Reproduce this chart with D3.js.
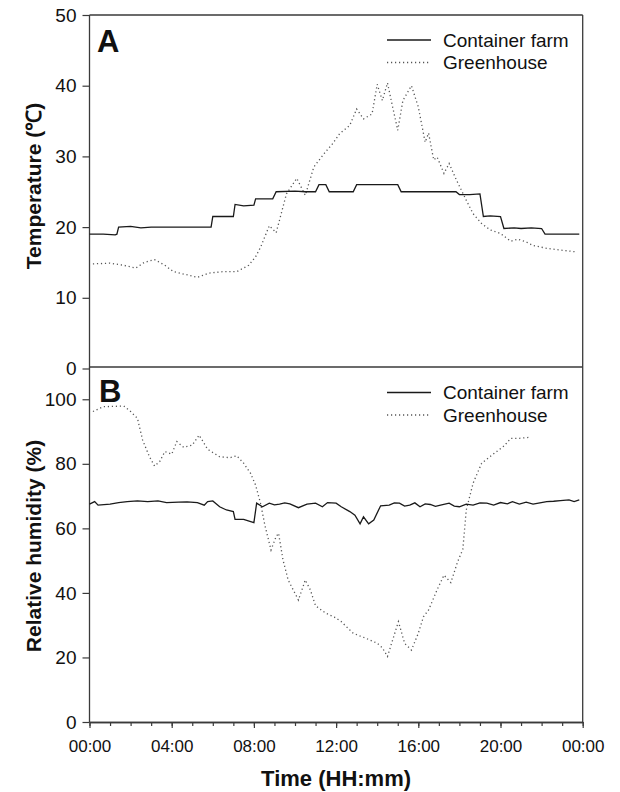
<!DOCTYPE html>
<html>
<head>
<meta charset="utf-8">
<script src="https://cdn.jsdelivr.net/npm/d3@7"></script>
<style>
  body { margin: 0; background: #fff; }
  svg text { font-family: "Liberation Sans", Arial, sans-serif; fill: #111; }
</style>
</head>
<body>
<div id="root"></div>
<script>
// temperature, container farm (solid)
var tempContainerTime = ["00:00","00:40","01:15","01:20","01:25","02:00","02:30","03:00","04:00","05:00","05:55","06:00","06:30","07:00","07:05","07:30","08:00","08:05","08:30","08:55","09:05","10:00","10:30","11:00","11:10","11:30","11:40","12:50","13:00","15:00","15:10","16:00","17:00","17:50","18:00","18:30","19:00","19:10","19:30","20:00","20:10","20:40","21:00","21:30","22:00","22:10","23:00","23:50"];
var tempContainer = [19.0,19.0,18.9,19.0,20.0,20.1,19.9,20.0,20.0,20.0,20.0,21.5,21.5,21.5,23.2,23.0,23.1,24.0,24.0,24.0,25.0,25.1,25.0,25.0,26.0,26.0,25.0,25.0,26.0,26.0,25.0,25.0,25.0,25.0,24.6,24.6,24.7,21.5,21.6,21.5,19.8,19.9,19.8,19.9,19.8,19.0,19.0,19.0];

// temperature, greenhouse (dotted)
var tempGreenTime = ["00:10","01:00","01:40","02:15","02:40","03:10","03:40","04:05","04:40","05:15","05:50","06:30","07:10","07:45","08:05","08:20","08:45","09:05","09:35","10:05","10:30","10:55","11:25","11:50","12:10","12:40","13:00","13:20","13:45","14:00","14:15","14:30","14:45","15:00","15:15","15:40","16:00","16:20","16:30","16:45","16:55","17:15","17:30","17:50","18:00","18:20","18:40","19:05","19:30","20:00","20:30","20:50","21:15","21:35","22:15","23:05","23:40"];
var tempGreen = [14.8,14.9,14.6,14.2,15.0,15.4,14.6,13.7,13.3,12.9,13.5,13.7,13.7,14.6,15.8,17.2,20.2,19.2,24.7,26.9,24.5,28.5,30.4,31.8,33.2,34.4,36.7,35.3,36.0,40.2,37.9,40.4,37.0,33.7,37.9,40.0,37.0,32.0,33.3,29.5,29.9,27.6,29.0,26.8,25.8,23.8,21.9,20.5,19.6,19.1,18.0,18.3,17.9,17.4,17.0,16.7,16.5];

// relative humidity, container farm (solid)
var rhContainerTime = ["00:00","00:15","00:25","01:00","01:25","01:50","02:20","02:50","03:20","03:45","04:20","04:45","05:15","05:35","05:45","06:00","06:20","06:40","07:00","07:05","07:30","08:00","08:08","08:25","08:45","09:00","09:15","09:30","09:45","10:10","10:35","11:00","11:20","11:35","12:00","12:15","12:40","12:55","13:10","13:20","13:35","13:50","14:10","14:35","14:50","15:05","15:20","15:35","15:50","16:05","16:20","16:35","16:50","17:05","17:30","17:45","18:00","18:20","18:40","19:00","19:20","19:40","20:00","20:20","20:35","20:55","21:15","21:35","21:55","22:15","22:35","22:55","23:20","23:35","23:50"];
var rhContainer = [67.5,68.3,67.2,67.5,68.0,68.3,68.5,68.3,68.5,68.0,68.1,68.2,68.0,67.2,68.3,68.5,66.7,65.7,65.2,62.8,62.8,61.8,67.8,66.7,67.8,67.3,67.5,67.9,67.6,66.4,67.5,67.8,66.7,68.0,67.8,66.7,65.2,64.1,61.4,63.6,61.4,62.6,67.0,67.2,67.9,67.8,66.9,67.2,67.9,66.7,67.6,67.4,66.8,67.2,67.8,66.9,66.7,67.5,67.2,67.9,67.8,67.2,68.0,67.6,68.3,67.5,68.1,67.5,67.9,68.3,68.4,68.6,68.8,68.3,68.8];

// relative humidity, greenhouse (dotted)
var rhGreenTime = ["00:10","00:40","01:40","02:00","02:20","02:35","02:55","03:10","03:25","03:40","04:00","04:15","04:35","05:00","05:20","05:45","06:20","06:50","07:10","07:30","07:50","08:05","08:20","08:32","08:50","09:05","09:12","09:25","09:40","10:10","10:30","10:45","11:00","11:30","11:55","12:15","12:50","13:30","14:00","14:15","14:30","14:45","15:02","15:20","15:40","16:00","16:15","16:30","16:55","17:15","17:35","17:55","18:10","18:20","18:40","19:05","19:35","20:10","20:30","20:55","21:25"];
var rhGreen = [96.2,97.7,97.9,96.2,94.1,87.4,82.2,79.3,80.7,83.8,83.0,86.9,85.1,85.8,88.9,84.5,82.2,81.9,82.5,80.2,77.1,73.4,67.5,61.0,53.3,57.5,58.5,50.2,44.0,37.8,44.0,40.9,36.0,33.7,32.5,31.1,27.5,25.8,24.4,23.0,20.3,25.4,31.1,24.4,22.3,27.5,32.6,34.7,41.0,45.5,43.2,49.7,53.5,65.7,74.0,80.2,82.7,85.5,87.9,87.9,88.2];

var tempTicks = [0, 10, 20, 30, 40, 50];
var rhTicks = [0, 20, 40, 60, 80, 100];
var seriesNames = ["Container farm", "Greenhouse"];

var w = 620, h = 792;
var left = 89.5, right = 582.7;
var topA = 15, botA = 367.5, topB = 367, botB = 722;

function hrs(s) {
  var p = s.split(":");
  return +p[0] + (+p[1]) / 60;
}
function zip(t, v) {
  return t.map(function(d, i) { return [hrs(d), v[i]]; });
}

var svg = d3.select("#root").append("svg").attr("width", w).attr("height", h);
svg.append("rect").attr("width", w).attr("height", h).attr("fill", "white");

var x = d3.scaleLinear().domain([0, 24]).range([left, right]);
var yA = d3.scaleLinear().domain([0, 50]).range([botA + 1, topA]);
var yB = d3.scaleLinear().domain([0, 110]).range([botB, topB]);

var axisColor = "#3a3a3a";

// frame lines
svg.append("line").attr("x1", left).attr("x2", right).attr("y1", topA).attr("y2", topA)
  .attr("stroke", axisColor).attr("stroke-width", 1.3);
svg.append("line").attr("x1", left).attr("x2", right).attr("y1", topB).attr("y2", topB)
  .attr("stroke", axisColor).attr("stroke-width", 1.3);
svg.append("line").attr("x1", right).attr("x2", right).attr("y1", topA).attr("y2", botB)
  .attr("stroke", axisColor).attr("stroke-width", 1.3);

// y axes
function styleAxis(g, size) {
  g.select(".domain").attr("stroke", axisColor).attr("stroke-width", 1.3);
  g.selectAll(".tick line").attr("stroke", axisColor).attr("stroke-width", 1.2);
  g.selectAll(".tick text").style("font-size", size + "px").attr("fill", "#111");
}
var gA = svg.append("g").attr("transform", "translate(" + left + ",0)")
  .call(d3.axisLeft(yA).tickValues(tempTicks).tickSize(7).tickPadding(6).tickSizeOuter(0));
styleAxis(gA, 19);
var gB = svg.append("g").attr("transform", "translate(" + left + ",0)")
  .call(d3.axisLeft(yB).tickValues(rhTicks).tickSize(7).tickPadding(6).tickSizeOuter(0));
styleAxis(gB, 19);
gB.select(".domain").attr("d", "M0," + topB + "V" + botB);
gA.select(".domain").attr("d", "M0," + topA + "V" + botA);

// x axis: hourly minor ticks, labels every 4 hours
var fmt = function(d) { return d3.format("02")(d % 24) + ":00"; };
var gMinor = svg.append("g").attr("transform", "translate(0," + botB + ")")
  .call(d3.axisBottom(x).tickValues(d3.range(0, 25, 1)).tickSize(4).tickFormat("").tickSizeOuter(0));
styleAxis(gMinor, 17);
var gX = svg.append("g").attr("transform", "translate(0," + botB + ")")
  .call(d3.axisBottom(x).tickValues(d3.range(0, 25, 4)).tickSize(6).tickPadding(12).tickFormat(fmt).tickSizeOuter(0));
styleAxis(gX, 17);

// lines
function drawLine(data, yScale, dotted) {
  var line = d3.line().x(function(d) { return x(d[0]); }).y(function(d) { return yScale(d[1]); });
  var p = svg.append("path").datum(data).attr("d", line).attr("fill", "none");
  if (dotted) {
    p.attr("stroke", "#555").attr("stroke-width", 1.3).attr("stroke-dasharray", "1.2,2.8");
  } else {
    p.attr("stroke", "#1a1a1a").attr("stroke-width", 1.3);
  }
}
drawLine(zip(tempGreenTime, tempGreen), yA, true);
drawLine(zip(tempContainerTime, tempContainer), yA, false);
drawLine(zip(rhGreenTime, rhGreen), yB, true);
drawLine(zip(rhContainerTime, rhContainer), yB, false);

// legends
function legend(y0) {
  seriesNames.forEach(function(name, i) {
    var yy = y0 + i * 22.5;
    var l = svg.append("line").attr("x1", 387).attr("x2", 431).attr("y1", yy).attr("y2", yy).attr("fill", "none");
    if (i == 1) l.attr("stroke", "#555").attr("stroke-width", 1.3).attr("stroke-dasharray", "1.2,2.8");
    else l.attr("stroke", "#1a1a1a").attr("stroke-width", 1.3);
    svg.append("text").attr("x", 443).attr("y", yy).attr("dy", "0.35em").style("font-size", "19px").text(name);
  });
}
legend(40);
legend(392.5);

// panel letters
svg.append("text").attr("x", 97).attr("y", 52).style("font-size", "31px").style("font-weight", "bold").text("A");
svg.append("text").attr("x", 99).attr("y", 402).style("font-size", "31px").style("font-weight", "bold").text("B");

// axis titles
svg.append("text").attr("x", (left + right) / 2).attr("y", 786).attr("text-anchor", "middle")
  .style("font-size", "22px").style("font-weight", "bold").text("Time (HH:mm)");
svg.append("text").attr("transform", "translate(41,186) rotate(-90)").attr("text-anchor", "middle")
  .style("font-size", "21px").style("font-weight", "bold").text("Temperature (℃)");
svg.append("text").attr("transform", "translate(41,546) rotate(-90)").attr("text-anchor", "middle")
  .style("font-size", "21px").style("font-weight", "bold").text("Relative humidity (%)");
</script>
</body>
</html>
